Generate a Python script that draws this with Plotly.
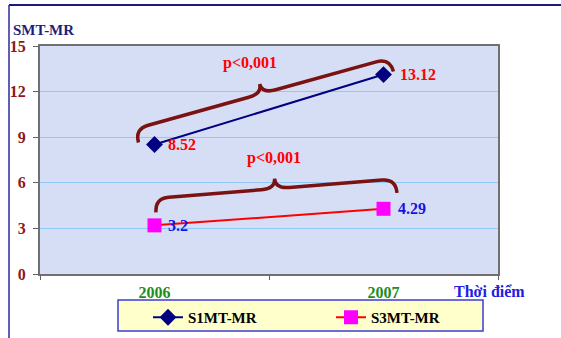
import plotly.graph_objects as go
import math

# ---- data ----
categories = ["2006", "2007"]
s1_name = "S1MT-MR"
s1_values = [8.52, 13.12]
s3_name = "S3MT-MR"
s3_values = [3.2, 4.29]
y_ticks = [0, 3, 6, 9, 12, 15]
p_label = "p<0,001"
y_title = "SMT-MR"
x_title = "Thời điểm"

# ---- layout geometry (pixels) ----
W, H = 561, 338
L, R, T, B = 40, 498, 46, 274
YMAX = 15
SERIF = "Liberation Serif, Times New Roman, serif"


def px(i, v):
    x = L + (i + 0.5) / len(categories) * (R - L)
    y = B - v / YMAX * (B - T)
    return x, y


def paper(x, y):
    return (x - L) / (R - L), (B - y) / (B - T)


def brace_path(A, Bp, w=14, c=10):
    ax, ay = A
    bx, by = Bp
    dx, dy = bx - ax, by - ay
    ln = math.hypot(dx, dy)
    ux, uy = dx / ln, dy / ln
    nx, ny = uy, -ux  # perpendicular, pointing up on screen
    if ny > 0:
        nx, ny = -nx, -ny
    mx, my = (ax + bx) / 2, (ay + by) / 2

    def P(bx0, by0, su, sn):
        return (bx0 + ux * su + nx * sn, by0 + uy * su + ny * sn)

    pts = [
        ("M", [A]),
        ("Q", [P(ax, ay, 0, w), P(ax, ay, w, w)]),
        ("L", [P(mx, my, -w, w)]),
        ("Q", [P(mx, my, 0, w), P(mx, my, 0, w + c)]),
        ("Q", [P(mx, my, 0, w), P(mx, my, w, w)]),
        ("L", [P(bx, by, -w, w)]),
        ("Q", [P(bx, by, 0, w), Bp]),
    ]
    s = ""
    for cmd, ps in pts:
        s += cmd + " " + " ".join("%.5f,%.5f" % paper(*p) for p in ps) + " "
    return s.strip()


fig = go.Figure()
fig.add_trace(go.Scatter(
    x=categories, y=s1_values, name=s1_name, mode="lines+markers",
    line=dict(color="#000080", width=2),
    marker=dict(symbol="diamond", size=13, color="#000080"),
))
fig.add_trace(go.Scatter(
    x=categories, y=s3_values, name=s3_name, mode="lines+markers",
    line=dict(color="#FF0000", width=2),
    marker=dict(symbol="square", size=14, color="#FF00FF"),
))

shapes = []
# legend box
bx0, by0 = paper(118, 300)
bx1, by1 = paper(483, 331)
shapes.append(dict(type="rect", xref="paper", yref="paper", x0=bx0, y0=by0, x1=bx1, y1=by1,
                   fillcolor="#FFFFCC", line=dict(color="#3C3CD0", width=1.5), layer="below"))
# braces
a1 = px(0, s1_values[0]); b1 = px(1, s1_values[1])
a3 = px(0, s3_values[0]); b3 = px(1, s3_values[1])
for A, Bp in [((a1[0] - 16, a1[1] - 2), (b1[0] + 10, b1[1] - 3)),
              ((a3[0] + 1.5, a3[1] - 13), (b3[0] + 13.5, b3[1] - 16))]:
    shapes.append(dict(type="path", xref="paper", yref="paper",
                       path=brace_path(A, Bp),
                       line=dict(color="#7A1212", width=3.5)))
# outer frame
fx0, fy0 = paper(9, 5)
fx1, _ = paper(561, 5)
_, fy1 = paper(9, 338)
shapes.append(dict(type="line", xref="paper", yref="paper", x0=fx0, y0=fy0, x1=fx1, y1=fy0,
                   line=dict(color="#1A1A80", width=2)))
shapes.append(dict(type="line", xref="paper", yref="paper", x0=fx0, y0=fy0, x1=fx0, y1=fy1,
                   line=dict(color="#2A2AA0", width=1.5)))

annotations = []
# value labels
for i, v in enumerate(s1_values):
    annotations.append(dict(x=i, y=v, xref="x", yref="y", text=f"{v:.2f}", showarrow=False,
                            xanchor="left", yanchor="middle", xshift=11 if i == 0 else 14,
                            font=dict(family=SERIF, size=16, color="#FF0000", weight="bold")))
for i, v in enumerate(s3_values):
    annotations.append(dict(x=i, y=v, xref="x", yref="y", text=f"{v:g}", showarrow=False,
                            xanchor="left", yanchor="middle", xshift=11 if i == 0 else 12,
                            font=dict(family=SERIF, size=16, color="#1414E6", weight="bold")))
# p labels
for (xp, yp) in [(250, 63), (274, 158)]:
    pxp, pyp = paper(xp, yp)
    annotations.append(dict(x=pxp, y=pyp, xref="paper", yref="paper", text=p_label,
                            showarrow=False, xanchor="center", yanchor="middle",
                            font=dict(family=SERIF, size=16, color="#FF0000", weight="bold")))
# axis titles
tx, ty = paper(11, 30)
annotations.append(dict(x=tx, y=ty, xref="paper", yref="paper", text=y_title, showarrow=False,
                        xanchor="left", yanchor="middle",
                        font=dict(family=SERIF, size=15, color="#1E1E80", weight="bold")))
tx, ty = paper(452, 291)
annotations.append(dict(x=tx, y=ty, xref="paper", yref="paper", text=x_title, showarrow=False,
                        xanchor="left", yanchor="middle",
                        font=dict(family=SERIF, size=16, color="#2020E0", weight="bold")))

lx, _ = paper(148, 0)
_, ly = paper(0, 301)

fig.update_layout(
    width=W, height=H,
    margin=dict(l=L, r=W - R, t=T, b=H - B, autoexpand=False),
    paper_bgcolor="white",
    plot_bgcolor="#D5DEF5",
    showlegend=True,
    legend=dict(orientation="h", x=lx, xanchor="left", y=ly, yanchor="top",
                bgcolor="rgba(0,0,0,0)", borderwidth=0,
                entrywidth=138, entrywidthmode="pixels",
                font=dict(family=SERIF, size=15, color="black", weight="bold")),
    shapes=shapes,
    annotations=annotations,
    xaxis=dict(type="category", range=[-0.5, 1.5], showgrid=False,
               showline=True, linecolor="#707070", linewidth=2, mirror=True,
               ticks="outside", tickson="boundaries", ticklen=4, tickcolor="#606060",
               ticklabelstandoff=3,
               tickfont=dict(family=SERIF, size=16, color="#1E8C1E", weight="bold"),
               zeroline=False),
    yaxis=dict(range=[0, YMAX], tickvals=y_ticks, showgrid=True, gridcolor="#90C8F8", gridwidth=1,
               showline=True, linecolor="#707070", linewidth=2, mirror=True,
               ticks="outside", ticklen=5, tickcolor="#606060",
               ticklabelstandoff=4,
               tickfont=dict(family=SERIF, size=16, color="#8B1A1A", weight="bold"),
               zeroline=False),
)

fig.write_html("out.html", config={"displayModeBar": False},
               post_script="document.body.style.margin='0';")
